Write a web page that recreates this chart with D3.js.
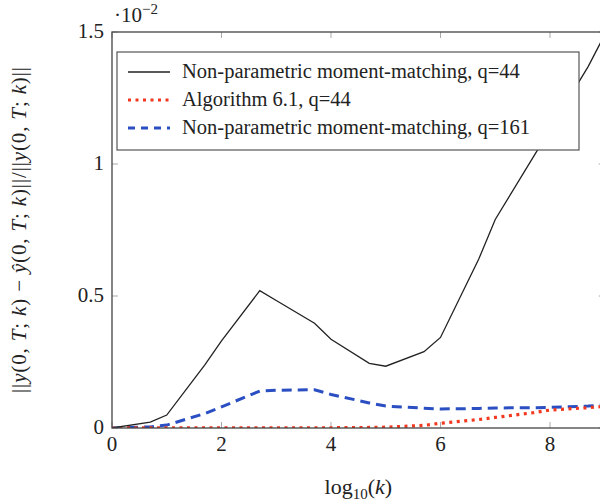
<!DOCTYPE html>
<html><head><meta charset="utf-8">
<script src="https://cdn.jsdelivr.net/npm/d3@7"></script>
<style>body{margin:0;background:#fff}svg{display:block}</style>
</head><body>
<svg id="c" width="600" height="503"></svg>
<script>
const logK = [0, 0.699, 1, 1.699, 2, 2.699, 3, 3.699, 4, 4.699, 5, 5.699, 6, 6.699, 7, 7.699, 8, 8.699, 9];
const npmm44 = [0, 0.022, 0.049, 0.24, 0.33, 0.52, 0.483, 0.397, 0.336, 0.245, 0.234, 0.289, 0.343, 0.64, 0.79, 1.028, 1.13, 1.37, 1.49];
const alg61 = [0, 0.001, 0.001, 0.001, 0.001, 0.001, 0.001, 0.001, 0.001, 0.002, 0.003, 0.01, 0.018, 0.032, 0.04, 0.058, 0.068, 0.077, 0.082];
const npmm161 = [0, 0.004, 0.011, 0.055, 0.08, 0.14, 0.143, 0.145, 0.127, 0.095, 0.083, 0.075, 0.072, 0.074, 0.076, 0.077, 0.078, 0.083, 0.088];
const seriesNames = ["Non-parametric moment-matching, q=44", "Algorithm 6.1, q=44", "Non-parametric moment-matching, q=161"];
const xTicks = [0, 2, 4, 6, 8];
const yTicks = [0, 0.5, 1, 1.5];

const FONT = "Liberation Serif";
const svg = d3.select("#c");
const L = 112, T = 32, B = 428;
const x = d3.scaleLinear().domain([0, 9]).range([L, L + 492.75]);
const y = d3.scaleLinear().domain([0, 1.5]).range([B, T]);
const R = x(9);

svg.append("defs").append("clipPath").attr("id", "pc")
  .append("rect").attr("x", L).attr("y", T).attr("width", R - L).attr("height", B - T);

const tickCol = "#aaa";
const g = svg.append("g");
xTicks.forEach(t => {
  g.append("line").attr("x1", x(t)).attr("x2", x(t)).attr("y1", B).attr("y2", B - 6).attr("stroke", tickCol);
  g.append("line").attr("x1", x(t)).attr("x2", x(t)).attr("y1", T).attr("y2", T + 6).attr("stroke", tickCol);
});
yTicks.forEach(t => {
  g.append("line").attr("x1", L).attr("x2", L + 6).attr("y1", y(t)).attr("y2", y(t)).attr("stroke", tickCol);
  g.append("line").attr("x1", R).attr("x2", R - 6).attr("y1", y(t)).attr("y2", y(t)).attr("stroke", tickCol);
});

const mk = vals => d3.line().x((d, i) => x(logK[i])).y(d => y(d))(vals);
const pl = svg.append("g").attr("clip-path", "url(#pc)");
pl.append("path").attr("d", mk(npmm161)).attr("fill", "none").attr("stroke", "#2b4fc2").attr("stroke-width", 3).attr("stroke-dasharray", "10,6");
pl.append("path").attr("d", mk(alg61)).attr("fill", "none").attr("stroke", "#f2381f").attr("stroke-width", 3.2).attr("stroke-dasharray", "3,4.5");
pl.append("path").attr("d", mk(npmm44)).attr("fill", "none").attr("stroke", "#222").attr("stroke-width", 1.3);

svg.append("rect").attr("x", L).attr("y", T).attr("width", R - L).attr("height", B - T)
  .attr("fill", "none").attr("stroke", "#444").attr("stroke-width", 1.3);

const txt = sel => sel.append("text").attr("fill", "#222").style("font-family", FONT);

xTicks.forEach(t => {
  txt(svg).attr("x", x(t)).attr("y", 451).attr("text-anchor", "middle").attr("font-size", 21).text(t);
});
yTicks.forEach(t => {
  txt(svg).attr("x", 104).attr("y", y(t) + 6).attr("text-anchor", "end").attr("font-size", 21).text(t);
});

const ex = txt(svg).attr("x", 114).attr("y", 22).attr("font-size", 21);
ex.append("tspan").text("\u00b710");
ex.append("tspan").attr("dy", -8).attr("font-size", 15).text("\u22122");

const xl = txt(svg).attr("x", (L + R) / 2).attr("y", 494).attr("text-anchor", "middle").attr("font-size", 22);
xl.append("tspan").text("log");
xl.append("tspan").attr("dy", 5).attr("font-size", 15).text("10");
xl.append("tspan").attr("dy", -5).text("(");
xl.append("tspan").attr("font-style", "italic").text("k");
xl.append("tspan").text(")");

const yl = txt(svg).attr("transform", `translate(26,${(T + B) / 2}) rotate(-90)`).attr("text-anchor", "middle")
  .attr("font-size", 21).attr("textLength", 326).attr("lengthAdjust", "spacing");
const parts = [["||", 0], ["y", 1], ["(0, ", 0], ["T", 1], ["; ", 0], ["k", 1], [") \u2212 ", 0], ["\u0177", 1], ["(0, ", 0], ["T", 1], ["; ", 0], ["k", 1], [")||/||", 0], ["y", 1], ["(0, ", 0], ["T", 1], ["; ", 0], ["k", 1], [")||", 0]];
parts.forEach(p => yl.append("tspan").attr("font-style", p[1] ? "italic" : "normal").text(p[0]));

const lg = svg.append("g");
lg.append("rect").attr("x", 117).attr("y", 52).attr("width", 462).attr("height", 98)
  .attr("fill", "#fff").attr("stroke", "#555").attr("stroke-width", 1.2);
const rowsY = [72, 100, 128];
const styles = [
  {c: "#222", w: 1.3, d: null},
  {c: "#f2381f", w: 3.2, d: "3,4.5"},
  {c: "#2b4fc2", w: 3, d: "7,6"}
];
seriesNames.forEach((n, i) => {
  const ln = lg.append("line").attr("x1", 128).attr("x2", 170).attr("y1", rowsY[i]).attr("y2", rowsY[i])
    .attr("stroke", styles[i].c).attr("stroke-width", styles[i].w);
  if (styles[i].d) ln.attr("stroke-dasharray", styles[i].d);
  txt(lg).attr("x", 182).attr("y", rowsY[i] + 6).attr("font-size", 20.5).text(n);
});
</script>
</body></html>
